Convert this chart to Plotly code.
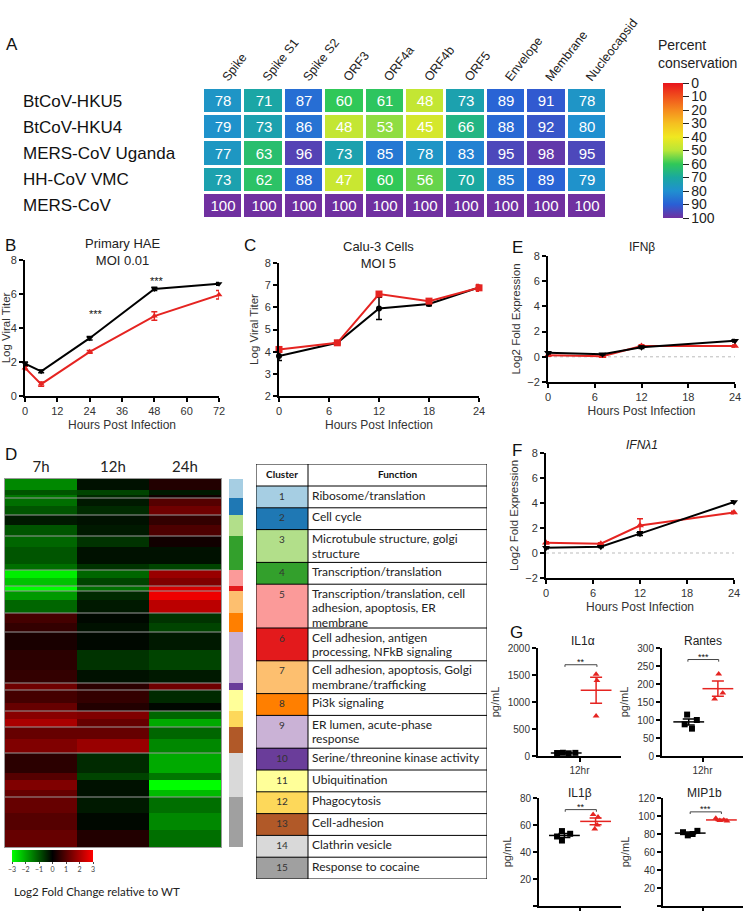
import plotly.graph_objects as go
import numpy as np

W, H = 743, 911
def fx(p): return p / W
def fy(p): return 1 - p / H

ARIAL = "Liberation Sans, Arial, sans-serif"
CAL = "Lato, Carlito, sans-serif"
RED = "#e52421"

# ---------------- Panel A data ----------------
a_genes = ["Spike", "Spike S1", "Spike S2", "ORF3", "ORF4a", "ORF4b", "ORF5",
           "Envelope", "Membrane", "Nucleocapsid"]
a_viruses = ["BtCoV-HKU5", "BtCoV-HKU4", "MERS-CoV Uganda", "HH-CoV VMC", "MERS-CoV"]
a_hku5 = [78, 71, 87, 60, 61, 48, 73, 89, 91, 78]
a_hku4 = [79, 73, 86, 48, 53, 45, 66, 88, 92, 80]
a_uganda = [77, 63, 96, 73, 85, 78, 83, 95, 98, 95]
a_vmc = [73, 62, 88, 47, 60, 56, 70, 85, 89, 79]
a_mers = [100, 100, 100, 100, 100, 100, 100, 100, 100, 100]
a_ticks = [0, 10, 20, 30, 40, 50, 60, 70, 80, 90, 100]
a_scale_vals = [0, 10, 20, 30, 40, 50, 60, 70, 80, 90, 100]
a_scale_cols = ["#e8141c", "#f0501c", "#f58a1e", "#f5c020", "#f0e820", "#b8e638",
                "#30c858", "#1aa8a0", "#2090d0", "#2a5fd5", "#7030a0"]

# ---------------- Panel B data ----------------
b_hours = [0, 6, 24, 48, 72]
b_black = [1.9, 1.45, 3.4, 6.3, 6.6]
b_black_err = [0.1, 0.08, 0.1, 0.1, 0.08]
b_red = [1.65, 0.7, 2.6, 4.7, 5.95]
b_red_err = [0.1, 0.12, 0.08, 0.25, 0.25]
b_sig_hours = [26.5, 49]
b_sig_y = [4.95, 6.9]

# ---------------- Panel C data ----------------
c_hours = [0, 7, 12, 18, 24]
c_black = [3.8, 4.4, 5.95, 6.15, 6.9]
c_black_err = [0.2, 0.05, 0.5, 0.08, 0.12]
c_red = [4.1, 4.4, 6.6, 6.28, 6.88]
c_red_err = [0.08, 0.05, 0.08, 0.1, 0.15]

# ---------------- Panel E data ----------------
e_hours = [0, 7, 12, 24]
e_black = [0.33, 0.2, 0.75, 1.27]
e_black_err = [0.08, 0.05, 0.1, 0.1]
e_red = [0.13, 0.05, 0.85, 0.85]
e_red_err = [0.05, 0.05, 0.1, 0.08]

# ---------------- Panel F data ----------------
f_hours = [0, 7, 12, 24]
f_black = [0.43, 0.5, 1.55, 4.08]
f_black_err = [0.08, 0.05, 0.15, 0.1]
f_red = [0.83, 0.75, 2.2, 3.25]
f_red_err = [0.08, 0.08, 0.55, 0.1]

# ---------------- Panel D data ----------------
d_times = ["7h", "12h", "24h"]
d_band_rows = [11, 5, 3, 8, 9, 10, 11, 11, 17, 6, 8, 8, 5, 9, 13, 10, 9, 18, 20, 13,
               7, 13, 8, 8, 8, 12, 14, 20, 7, 10, 7, 16, 17, 17]
d_7h = [-1.6, -1.0, -1.4, -1.3, -1.0, -0.3, -1.0, -1.2, -1.0, -1.3, -2.8, -2.3, -3.0,
        -1.8, -1.2, 0.8, 0.6, 0.3, 0.5, 0.6, 1.3, 0.8, 1.2, 1.6, 2.0, 1.2, 1.5, 0.5,
        1.0, 1.5, 1.2, 1.2, 1.0, 1.2]
d_12h = [-0.2, -0.8, -0.5, -0.3, -0.5, -0.2, -0.3, -0.6, -0.2, -0.6, -1.2, -0.8, -1.3,
         -0.5, -0.3, -0.1, -0.2, -0.1, -0.6, -0.2, 0.5, 0.6, 0.4, 1.5, 1.2, 1.2, 1.8,
         -0.5, -0.8, -0.2, -0.2, -0.3, -0.1, 0.4]
d_24h = [0.4, -0.3, 0.2, 1.0, 1.3, 0.6, 0.9, 0.2, -0.2, -0.8, 1.8, 1.5, 2.5, 2.8, 2.2,
         -0.6, -0.8, -0.3, -0.8, -0.3, 1.3, -0.5, -0.1, -1.2, -2.0, -1.2, -1.6, -2.0,
         -1.4, -3.0, -2.2, -1.3, -1.6, -1.3]
d_cluster_ids = list(range(1, 16))
d_cluster_rows = [19, 17, 21, 34, 16, 5, 22, 19, 51, 7, 21, 16, 26, 44, 50]
d_cluster_colors = ["#a6cee3", "#1f78b4", "#b2df8a", "#33a02c", "#fb9a99", "#e31a1c",
                    "#fdbf6f", "#ff7f00", "#cab2d6", "#6a3d9a", "#ffff99", "#fdd85a",
                    "#b15928", "#d9d9d9", "#a0a0a0"]
d_functions = [
    "Ribosome/translation",
    "Cell cycle",
    "Microtubule structure, golgi<br>structure",
    "Transcription/translation",
    "Transcription/translation, cell<br>adhesion, apoptosis, ER<br>membrane",
    "Cell adhesion, antigen<br>processing, NFkB signaling",
    "Cell adhesion, apoptosis, Golgi<br>membrane/trafficking",
    "Pi3k signaling",
    "ER lumen, acute-phase<br>response",
    "Serine/threonine kinase activity",
    "Ubiquitination",
    "Phagocytosis",
    "Cell-adhesion",
    "Clathrin vesicle",
    "Response to cocaine",
]
d_table_header = ["Cluster", "Function"]
d_scale_ticks = [-3, -2, -1, 0, 1, 2, 3]

# ---------------- Panel G data ----------------
g_titles = ["IL1\u03b1", "Rantes", "IL1\u03b2", "MIP1b"]
g_group_pos = [[0.34, 0.70], [0.33, 0.69], [0.31, 0.69], [0.34, 0.73]]
g_black_x = [[0.23, 0.30, 0.37, 0.45], [0.31, 0.43, 0.28, 0.37],
             [0.28, 0.38, 0.22, 0.28], [0.25, 0.31, 0.37, 0.43]]
g_black_y = [[55, 60, 50, 58], [115, 100, 88, 76], [55.5, 53.5, 51.5, 48.5],
             [82, 78.5, 80, 83.5]]
g_red_x = [[0.70, 0.71, 0.70], [0.70, 0.75, 0.65], [0.66, 0.72, 0.71, 0.68],
           [0.66, 0.71, 0.76, 0.80]]
g_red_y = [[1512, 1400, 741], [228, 175, 158], [67.7, 66, 60, 57],
           [97.5, 95, 95.5, 94.5]]
g_sig = ["**", "***", "**", "***"]
g_bracket_y = [1690, 268, 71.4, 104.6]
g_bracket_x = [[0.325, 0.71], [0.32, 0.70], [0.32, 0.70], [0.34, 0.73]]
g_ymax = [2000, 300, 80, 120]
g_ydtick = [500, 50, 20, 20]
g_xlabel = ["12hr", "12hr", "", ""]

fig = go.Figure()
layout = dict(width=W, height=H,
              margin=dict(l=0, r=0, t=0, b=0, pad=0, autoexpand=False),
              paper_bgcolor="white", plot_bgcolor="white", showlegend=False)
annotations = []

def ann(text, x, y, size=18, xanchor="left", yanchor="middle", **kw):
    d = dict(text=text, x=fx(x), y=fy(y), xref="paper", yref="paper",
             showarrow=False, xanchor=xanchor, yanchor=yanchor,
             font=dict(family=kw.pop("family", ARIAL), size=size, color=kw.pop("color", "#111")))
    d.update(kw)
    annotations.append(d)

# ================= Panel A =================
a_vals = [a_hku5, a_hku4, a_uganda, a_vmc, a_mers]
# colourbar shows 0 at the top: colour by -value, label with value
a_cs = sorted([[1 - v / 100.0, c] for v, c in zip(a_scale_vals, a_scale_cols)])
fig.add_trace(go.Heatmap(
    z=[[-v for v in row] for row in a_vals], x=a_genes, y=a_viruses,
    text=a_vals, texttemplate="%{text}",
    textfont=dict(family=ARIAL, size=15, color="white"),
    colorscale=a_cs, zmin=-100, zmax=0, xgap=3, ygap=3, hoverinfo="skip",
    colorbar=dict(x=fx(663), xanchor="left", xpad=0, ypad=0,
                  y=fy(150.5), yanchor="middle", len=135, lenmode="pixels",
                  thickness=20, outlinewidth=0, ticks="outside", ticklen=6,
                  tickcolor="#222", tickvals=[-t for t in a_ticks],
                  ticktext=[str(t) for t in a_ticks],
                  tickfont=dict(family=ARIAL, size=14, color="#222")),
    xaxis="x", yaxis="y"))
layout["xaxis"] = dict(domain=[fx(203), fx(607)], anchor="y", side="top",
                       tickangle=-52, showgrid=False, zeroline=False, ticks="",
                       tickfont=dict(family=ARIAL, size=12.5, color="#222"))
layout["yaxis"] = dict(domain=[fy(219), fy(88)], anchor="x", autorange="reversed",
                       showticklabels=False, showgrid=False, zeroline=False)
for v in a_viruses:
    annotations.append(dict(text=v, x=fx(21), y=v, xref="paper", yref="y",
                            showarrow=False, xanchor="left", yanchor="middle",
                            font=dict(family=ARIAL, size=17, color="#111")))
ann("Percent<br>conservation", 656, 54, size=14, color="#222", align="left")
ann("A", 4, 45, size=17)

# ================= line panels =================
def line_axes(n, xdom, ydom, xr, yr, xt, yt, xtitle, ytitle):
    base = dict(showline=True, linewidth=2, linecolor="black", ticks="outside",
                ticklen=4, tickwidth=2, tickcolor="black", showgrid=False,
                zeroline=False, tickfont=dict(family=ARIAL, size=11, color="#333"))
    layout[f"xaxis{n}"] = dict(base, domain=[fx(xdom[0]), fx(xdom[1])], anchor=f"y{n}",
                               range=xr, tickvals=xt,
                               title=dict(text=xtitle, standoff=4,
                                          font=dict(family=ARIAL, size=12, color="#333")))
    layout[f"yaxis{n}"] = dict(base, domain=[fy(ydom[0]), fy(ydom[1])], anchor=f"x{n}",
                               range=yr, tickvals=yt,
                               title=dict(text=ytitle, standoff=4,
                                          font=dict(family=ARIAL, size=11.5, color="#333")))

def series(n, x, y, err, color, sym, size=6):
    fig.add_trace(go.Scatter(
        x=x, y=y, mode="lines+markers", xaxis=f"x{n}", yaxis=f"y{n}",
        line=dict(color=color, width=2), cliponaxis=False,
        marker=dict(symbol=sym, size=size, color=color),
        error_y=dict(type="data", array=err, color=color, thickness=1.5, width=3),
        hoverinfo="skip"))

# B
line_axes(2, (25, 219), (396, 260), [0, 72], [0, 8], [0, 12, 24, 36, 48, 60, 72],
          [0, 2, 4, 6, 8], "Hours Post Infection", "Log Viral Titer")
series(2, b_hours, b_red, b_red_err, RED, "triangle-up")
series(2, b_hours, b_black, b_black_err, "black", "triangle-down")
for hx, hy in zip(b_sig_hours, b_sig_y):
    annotations.append(dict(text="***", x=hx, y=hy, xref="x2", yref="y2",
                            showarrow=False, yanchor="middle", yshift=-2,
                            font=dict(family=ARIAL, size=11, color="#111")))
ann("Primary HAE<br>MOI 0.01", 122, 252, size=13, xanchor="center", color="#222")
ann("B", 3, 246, size=17)

# C
line_axes(3, (279, 479), (396, 263), [0, 24], [2, 8], [0, 6, 12, 18, 24],
          [2, 3, 4, 5, 6, 7, 8], "Hours Post Infection", "Log Viral Titer")
series(3, c_hours, c_black, c_black_err, "black", "circle")
series(3, c_hours, c_red, c_red_err, RED, "square", 7)
ann("Calu-3 Cells<br>MOI 5", 378, 255, size=13, xanchor="center", color="#222")
ann("C", 242, 246, size=17)

# E
line_axes(4, (548, 735), (382, 256), [0, 24], [-2, 8], [0, 6, 12, 18, 24],
          [-2, 0, 2, 4, 6, 8], "Hours Post Infection", "Log2 Fold Expression")
fig.add_trace(go.Scatter(x=[0, 24], y=[0, 0], mode="lines", xaxis="x4", yaxis="y4",
                         line=dict(color="#bbbbbb", width=1, dash="dot"), hoverinfo="skip"))
series(4, e_hours, e_red, e_red_err, RED, "triangle-up", 7)
series(4, e_hours, e_black, e_black_err, "black", "triangle-down", 7)
ann("IFN\u03b2", 642, 247, size=12, xanchor="center", color="#222")
ann("E", 510, 247, size=17)

# F
line_axes(5, (546, 734), (578, 453), [0, 24], [-2, 8], [0, 6, 12, 18, 24],
          [-2, 0, 2, 4, 6, 8], "Hours Post Infection", "Log2 Fold Expression")
fig.add_trace(go.Scatter(x=[0, 24], y=[0, 0], mode="lines", xaxis="x5", yaxis="y5",
                         line=dict(color="#bbbbbb", width=1, dash="dot"), hoverinfo="skip"))
series(5, f_hours, f_red, f_red_err, RED, "triangle-up", 7)
series(5, f_hours, f_black, f_black_err, "black", "triangle-down", 7)
ann("<i>IFN\u03bb1</i>", 642, 445, size=12, xanchor="center", color="#222")
ann("F", 510, 450, size=17)

# ================= Panel D heatmap =================
band_edges = np.concatenate([[0], np.cumsum(d_band_rows)]).tolist()
fig.add_trace(go.Heatmap(
    z=[list(r) for r in zip(d_7h, d_12h, d_24h)], x=[0, 1, 2], y=band_edges,
    colorscale=[[0, "#00ff00"], [0.5, "#000000"], [1, "#ff0000"]], zmin=-3, zmax=3,
    hoverinfo="skip", xaxis="x6", yaxis="y6",
    colorbar=dict(orientation="h", x=fx(12), xanchor="left", xpad=0, ypad=0,
                  y=fy(850), yanchor="top", len=81, lenmode="pixels", thickness=12,
                  outlinewidth=0, tickvals=d_scale_ticks, ticks="outside", ticklen=2,
                  tickfont=dict(family=CAL, size=7, color="#444"))))
clu_edges = np.concatenate([[0], np.cumsum(d_cluster_rows)]).tolist()
bx, by = [], []
for e in clu_edges[1:-1]:
    bx += [-0.5, 2.5, None]
    by += [e, e, None]
fig.add_trace(go.Scatter(x=bx, y=by, mode="lines", xaxis="x6", yaxis="y6",
                         line=dict(color="#9a9a9a", width=1), hoverinfo="skip"))
n_cl = len(d_cluster_ids)
clu_cs = [[i / (n_cl - 1), c] for i, c in enumerate(d_cluster_colors)]
fig.add_trace(go.Heatmap(z=[[c] for c in d_cluster_ids], x=[0], y=clu_edges,
                         colorscale=clu_cs, zmin=1, zmax=n_cl, showscale=False,
                         hoverinfo="skip", xaxis="x7", yaxis="y6"))
layout["xaxis6"] = dict(domain=[fx(5), fx(221)], anchor="y6", side="top", range=[-0.5, 2.5],
                        tickvals=[0, 1, 2], ticktext=d_times, ticks="", showgrid=False,
                        zeroline=False, showline=True, mirror=True, linecolor="#999",
                        linewidth=1, tickfont=dict(family=CAL, size=15, color="#222"))
layout["yaxis6"] = dict(domain=[fy(847), fy(479)], anchor="x6",
                        range=[clu_edges[-1], 0], showticklabels=False, showgrid=False,
                        zeroline=False, showline=True, mirror=True, linecolor="#999",
                        linewidth=1)
layout["xaxis7"] = dict(domain=[fx(229), fx(243)], anchor="y6", range=[-0.5, 0.5],
                        showticklabels=False, showgrid=False, zeroline=False)
ann("Log2 Fold Change relative to WT", 12, 891, size=11.5, family=CAL, color="#222")
ann("D", 3, 455, size=17)

# ================= Panel D table (cluster / function) =================
T_COL1, T_W, T_HEAD, T_ROW, T_LINE, T_EXTRA = 52, 231, 22, 21.8, 14.5, 11
n_lines = [f.count("<br>") + 1 for f in d_functions]
row_h = [T_ROW + T_EXTRA * (k - 1) for k in n_lines]
row_edges = np.concatenate([[T_HEAD], T_HEAD + np.cumsum(row_h)]).tolist()
t_total = row_edges[-1]
fig.add_trace(go.Heatmap(z=[[c] for c in d_cluster_ids], x=[0, T_COL1], y=row_edges,
                         colorscale=clu_cs, zmin=1, zmax=n_cl, showscale=False,
                         hoverinfo="skip", xaxis="x12", yaxis="y12"))
gx, gy = [], []
for e in [0] + row_edges:
    gx += [0, T_W, None]
    gy += [e, e, None]
for xv in [0, T_COL1, T_W]:
    gx += [xv, xv, None]
    gy += [0, t_total, None]
fig.add_trace(go.Scatter(x=gx, y=gy, mode="lines", xaxis="x12", yaxis="y12",
                         line=dict(color="black", width=1), hoverinfo="skip",
                         cliponaxis=False))
fig.add_trace(go.Scatter(x=[T_COL1 / 2, (T_COL1 + T_W) / 2], y=[T_HEAD / 2] * 2,
                         mode="text", text=["<b>%s</b>" % h for h in d_table_header],
                         textposition="middle center", xaxis="x12", yaxis="y12",
                         textfont=dict(family=CAL, size=10, color="#111"),
                         hoverinfo="skip", cliponaxis=False))
fig.add_trace(go.Scatter(x=[T_COL1 / 2] * n_cl, y=[r + 11 for r in row_edges[:-1]],
                         mode="text", text=[str(c) for c in d_cluster_ids],
                         textposition="middle center", xaxis="x12", yaxis="y12",
                         textfont=dict(family=CAL, size=10, color="#333"),
                         hoverinfo="skip", cliponaxis=False))
fl_x, fl_y, fl_t = [], [], []
for top, txt in zip(row_edges[:-1], d_functions):
    for k, line in enumerate(txt.split("<br>")):
        fl_x.append(T_COL1 + 4)
        fl_y.append(top + 10.5 + k * T_LINE)
        fl_t.append(line)
fig.add_trace(go.Scatter(x=fl_x, y=fl_y, mode="text", text=fl_t,
                         textposition="middle right", xaxis="x12", yaxis="y12",
                         textfont=dict(family=CAL, size=12, color="#222"),
                         hoverinfo="skip", cliponaxis=False))
layout["xaxis12"] = dict(domain=[fx(256), fx(487)], anchor="y12", range=[0, T_W],
                         visible=False)
layout["yaxis12"] = dict(domain=[fy(879), fy(464)], anchor="x12", range=[t_total, 0],
                         visible=False)

# ================= Panel G =================
g_dom = [((538, 621), (756, 648)), ((662, 743), (756, 648)),
         ((539, 621), (906, 798)), ((663, 743), (906, 798))]
g_title_pos = [(583, 641), (703, 641), (580, 793), (704, 793)]
for i in range(4):
    n = 8 + i
    (x0, x1), (y0, y1) = g_dom[i]
    base = dict(showline=True, linewidth=2, linecolor="black", ticks="outside",
                ticklen=4, tickwidth=2, tickcolor="black", showgrid=False,
                zeroline=False, tickfont=dict(family=ARIAL, size=10, color="#333"))
    layout[f"xaxis{n}"] = dict(base, domain=[fx(x0), fx(x1)], anchor=f"y{n}",
                               range=[0, 1], tickvals=[0.5], ticktext=[g_xlabel[i]])
    layout[f"yaxis{n}"] = dict(base, domain=[fy(y0), fy(y1)], anchor=f"x{n}",
                               range=[0, g_ymax[i]], dtick=g_ydtick[i],
                               title=dict(text="pg/mL", standoff=6,
                                          font=dict(family=ARIAL, size=11, color="#333")))
    bk = np.array(g_black_y[i], dtype=float)
    rd = np.array(g_red_y[i], dtype=float)
    fig.add_trace(go.Scatter(x=g_black_x[i], y=g_black_y[i], mode="markers",
                             xaxis=f"x{n}", yaxis=f"y{n}", cliponaxis=False,
                             marker=dict(symbol="square", size=6, color="black"),
                             hoverinfo="skip"))
    fig.add_trace(go.Scatter(x=g_red_x[i], y=g_red_y[i], mode="markers",
                             xaxis=f"x{n}", yaxis=f"y{n}",
                             marker=dict(symbol="triangle-up", size=6, color=RED),
                             hoverinfo="skip"))
    for vals, pos, col in [(bk, g_group_pos[i][0], "black"), (rd, g_group_pos[i][1], RED)]:
        se = vals.std(ddof=1) / np.sqrt(len(vals))
        fig.add_trace(go.Scatter(
            x=[pos], y=[vals.mean()], mode="markers", xaxis=f"x{n}", yaxis=f"y{n}",
            marker=dict(symbol="line-ew", size=22, line=dict(color=col, width=1.5)),
            error_y=dict(type="data", array=[se], color=col, thickness=1.5, width=6),
            hoverinfo="skip"))
    bxl, bxr = g_bracket_x[i]
    h = g_ymax[i] * 0.02
    yb = g_bracket_y[i]
    fig.add_trace(go.Scatter(x=[bxl, bxl, bxr, bxr], y=[yb - h, yb, yb, yb - h],
                             mode="lines", xaxis=f"x{n}", yaxis=f"y{n}",
                             line=dict(color="#444", width=1), hoverinfo="skip"))
    annotations.append(dict(text=g_sig[i], x=(bxl + bxr) / 2, y=yb, xref=f"x{n}",
                            yref=f"y{n}", showarrow=False, yanchor="bottom", yshift=-4,
                            font=dict(family=ARIAL, size=9, color="#111")))
    tx, ty = g_title_pos[i]
    ann(g_titles[i], tx, ty, size=12, xanchor="center", color="#222")
ann("G", 508, 632, size=17)

layout["annotations"] = annotations
fig.update_layout(**layout)
fig.write_html("out.html")
